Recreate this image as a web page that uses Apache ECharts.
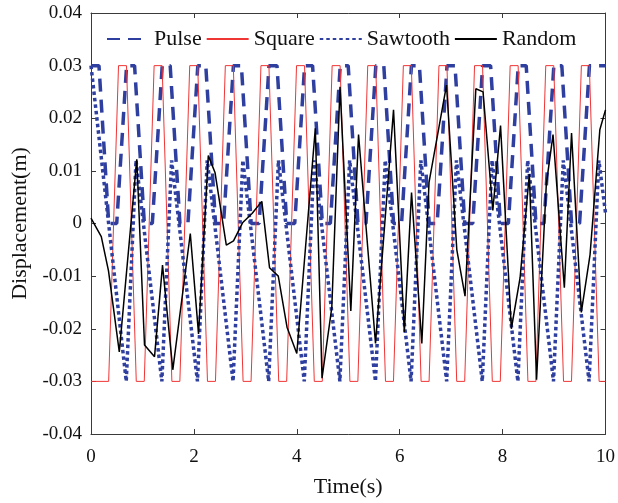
<!DOCTYPE html>
<html>
<head>
<meta charset="utf-8">
<script src="https://cdn.jsdelivr.net/npm/echarts@6/dist/echarts.min.js"></script>
<style>
html,body{margin:0;padding:0;background:#fff;}
#c{width:618px;height:503px;}
</style>
</head>
<body>
<div id="c"></div>
<script>
// ---- data ----
const seriesNames = ['Pulse', 'Square', 'Sawtooth', 'Random'];
const xTicks = [0, 2, 4, 6, 8, 10];
const yTicks = [-0.04, -0.03, -0.02, -0.01, 0, 0.01, 0.02, 0.03, 0.04];

const pulseT = [0, 0.155, 0.345, 0.5, 0.692, 0.847, 1.037, 1.192, 1.384, 1.539, 1.729, 1.884,
  2.076, 2.231, 2.421, 2.576, 2.768, 2.923, 3.113, 3.268, 3.460, 3.615, 3.805, 3.960,
  4.152, 4.307, 4.497, 4.652, 4.844, 4.999, 5.189, 5.344, 5.536, 5.691, 5.881, 6.036,
  6.228, 6.383, 6.573, 6.728, 6.920, 7.075, 7.265, 7.420, 7.612, 7.767, 7.957, 8.112,
  8.304, 8.459, 8.649, 8.804, 8.996, 9.151, 9.341, 9.496, 9.688, 10];
const pulseV = [0.03, 0.03, 0, 0, 0.03, 0.03, 0, 0, 0.03, 0.03, 0, 0,
  0.03, 0.03, 0, 0, 0.03, 0.03, 0, 0, 0.03, 0.03, 0, 0,
  0.03, 0.03, 0, 0, 0.03, 0.03, 0, 0, 0.03, 0.03, 0, 0,
  0.03, 0.03, 0, 0, 0.03, 0.03, 0, 0, 0.03, 0.03, 0, 0,
  0.03, 0.03, 0, 0, 0.03, 0.03, 0, 0, 0.03, 0.03];

const squareT = [0, 0.343, 0.535, 0.690, 0.880, 1.035, 1.227, 1.382, 1.572, 1.727,
  1.919, 2.074, 2.264, 2.419, 2.611, 2.766, 2.956, 3.111, 3.303, 3.458, 3.648, 3.803,
  3.995, 4.150, 4.340, 4.495, 4.687, 4.842, 5.032, 5.187, 5.379, 5.534, 5.724, 5.879,
  6.071, 6.226, 6.416, 6.571, 6.763, 6.918, 7.108, 7.263, 7.455, 7.610, 7.800, 7.955,
  8.147, 8.302, 8.492, 8.647, 8.839, 8.994, 9.184, 9.339, 9.531, 9.686, 9.876, 10];
const squareV = [-0.03, -0.03,
  0.03, 0.03, -0.03, -0.03, 0.03, 0.03, -0.03, -0.03, 0.03, 0.03, -0.03, -0.03,
  0.03, 0.03, -0.03, -0.03, 0.03, 0.03, -0.03, -0.03, 0.03, 0.03, -0.03, -0.03,
  0.03, 0.03, -0.03, -0.03, 0.03, 0.03, -0.03, -0.03, 0.03, 0.03, -0.03, -0.03,
  0.03, 0.03, -0.03, -0.03, 0.03, 0.03, -0.03, -0.03, 0.03, 0.03, -0.03, -0.03,
  0.03, 0.03, -0.03, -0.03, 0.03, 0.03, -0.03, -0.03];

const sawT = [0, 0.685, 0.875, 1.377, 1.567, 2.069, 2.259, 2.761, 2.951, 3.453, 3.643,
  4.145, 4.335, 4.837, 5.027, 5.529, 5.719, 6.221, 6.411, 6.913, 7.103, 7.605, 7.795,
  8.297, 8.487, 8.989, 9.179, 9.681, 9.871, 10];
const sawV = [0.03, -0.03, 0.012, -0.03, 0.012, -0.03, 0.012, -0.03, 0.012, -0.03, 0.012,
  -0.03, 0.012, -0.03, 0.012, -0.03, 0.012, -0.03, 0.012, -0.03, 0.012, -0.03, 0.012,
  -0.03, 0.012, -0.03, 0.012, -0.03, 0.012, 0.002];

const randT = [0, 0.2, 0.34, 0.55, 0.89, 1.04, 1.235, 1.39, 1.59, 1.93, 2.09, 2.28, 2.41,
  2.63, 2.77, 2.95, 3.13, 3.32, 3.47, 3.64, 3.81, 4.0, 4.36, 4.49, 4.68, 4.84, 5.05, 5.2,
  5.53, 5.88, 6.09, 6.23, 6.43, 6.57, 6.91, 7.11, 7.27, 7.48, 7.62, 7.81, 7.96, 8.17, 8.34,
  8.52, 8.66, 8.85, 8.98, 9.2, 9.34, 9.53, 9.7, 9.89, 10];
const randV = [0.001, -0.0025, -0.009, -0.0244, 0.0122, -0.0231, -0.0253, -0.0079, -0.0278,
  -0.0019, -0.021, 0.0129, 0.0097, -0.0041, -0.0033, 0.0002, 0.0019, 0.0042, -0.0084, -0.01,
  -0.0197, -0.0247, 0.0181, -0.0294, -0.016, 0.026, -0.0166, 0.0169, -0.0228, 0.0216, -0.0206,
  0.0059, -0.0228, 0.0078, 0.0263, -0.005, -0.0138, 0.0256, 0.025, 0.0025, 0.0186, -0.02,
  -0.0103, 0.0094, -0.0297, 0.0075, 0.0169, -0.0122, 0.0172, -0.0169, -0.0059, 0.0178, 0.0216];

// ---- chart ----
const zip = (a, b) => a.map((t, i) => [t, b[i]]);
const FONT = '"Liberation Serif", "Times New Roman", serif';
const AX = '#3a3a3a';
const BLUE = '#2F3F9F';
const CLEAR = 'rgba(0,0,0,0)';

const chart = echarts.init(document.getElementById('c'), null, {renderer: 'canvas'});

const yFmt = v => (Math.abs(v) < 1e-9 ? '0' : v.toFixed(2));
const lineAx = {show: true, onZero: false, lineStyle: {color: AX, width: 1}};
const tickAx = {show: true, inside: true, length: 5, lineStyle: {color: AX}};

const option = {
  backgroundColor: '#fff',
  animation: false,
  grid: {left: 91, right: 12, top: 13, bottom: 65, containLabel: false},
  legend: {
    data: seriesNames,
    left: 101, top: 21,
    itemWidth: 42, itemHeight: 14, itemGap: 4,
    itemStyle: {color: CLEAR, borderColor: CLEAR, borderWidth: 0},
    textStyle: {fontFamily: FONT, fontSize: 22, color: '#111', lineHeight: 26}
  },
  xAxis: [{
    type: 'value', min: xTicks[0], max: xTicks[xTicks.length - 1], interval: 2,
    name: 'Time(s)', nameLocation: 'middle', nameGap: 42,
    nameTextStyle: {fontFamily: FONT, fontSize: 22, color: '#111'},
    axisLine: lineAx, axisTick: tickAx,
    axisLabel: {fontFamily: FONT, fontSize: 19, color: '#111', margin: 14},
    splitLine: {show: false}
  }, {
    type: 'value', position: 'top', min: 0, max: 10, interval: 2,
    axisLine: lineAx, axisTick: tickAx,
    axisLabel: {show: false}, splitLine: {show: false}
  }],
  yAxis: [{
    type: 'value', min: yTicks[0], max: yTicks[yTicks.length - 1], interval: 0.01,
    name: 'Displacement(m)', nameLocation: 'middle', nameGap: 58, nameRotate: 90,
    nameTextStyle: {fontFamily: FONT, fontSize: 22, color: '#111'},
    axisLine: lineAx, axisTick: tickAx,
    axisLabel: {fontFamily: FONT, fontSize: 19, color: '#111', margin: 9, formatter: yFmt},
    splitLine: {show: false}
  }, {
    type: 'value', position: 'right', min: -0.04, max: 0.04, interval: 0.01,
    axisLine: lineAx, axisTick: tickAx,
    axisLabel: {show: false}, splitLine: {show: false}
  }],
  series: [
    {
      name: 'Pulse', type: 'line', data: zip(pulseT, pulseV),
      showSymbol: false, symbol: 'none', z: 2,
      itemStyle: {color: BLUE},
      lineStyle: {color: BLUE, width: 3.5, type: [13, 8], cap: 'butt'}
    },
    {
      name: 'Square', type: 'line', data: zip(squareT, squareV),
      showSymbol: false, symbol: 'none', z: 3,
      itemStyle: {color: '#F03535'},
      lineStyle: {color: '#F03535', width: 1}
    },
    {
      name: 'Sawtooth', type: 'line', data: zip(sawT, sawV),
      showSymbol: false, symbol: 'none', z: 4,
      itemStyle: {color: BLUE},
      lineStyle: {color: BLUE, width: 3.5, type: [3.5, 3], cap: 'butt'}
    },
    {
      name: 'Random', type: 'line', data: zip(randT, randV),
      showSymbol: false, symbol: 'none', z: 5,
      itemStyle: {color: '#000'},
      lineStyle: {color: '#000', width: 1.5}
    }
  ]
};
chart.setOption(option);
</script>
</body>
</html>
